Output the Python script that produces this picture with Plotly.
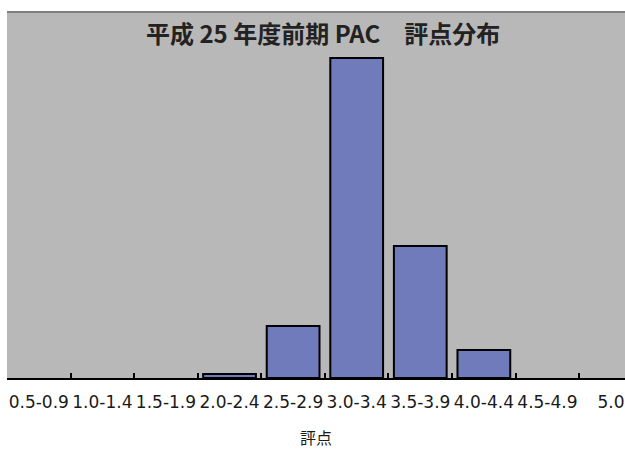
import plotly.graph_objects as go

categories = ["0.5-0.9", "1.0-1.4", "1.5-1.9", "2.0-2.4", "2.5-2.9",
              "3.0-3.4", "3.5-3.9", "4.0-4.4", "4.5-4.9", "5.0"]
counts = [0, 0, 0, 1, 13, 80, 33, 7, 0, 0]

title_text = "平成 25 年度前期 PAC　評点分布"
x_title = "評点"

line_widths = [2 if v > 0 else 0 for v in counts]

fig = go.Figure()
fig.add_trace(go.Bar(
    x=categories, y=counts, width=0.83,
    marker=dict(color="#6f7bbb", line=dict(color="#000000", width=line_widths)),
    showlegend=False,
))

fig.update_layout(
    width=625, height=452,
    margin=dict(l=7, r=0, t=12, b=74),
    paper_bgcolor="white",
    plot_bgcolor="#b8b8b8",
    font=dict(family="DejaVu Sans", color="#1a1a1a"),
    xaxis=dict(
        type="category",
        range=[-0.5, 9.22],
        tickson="boundaries",
        tickangle=0,
        ticklabelstandoff=8,
        ticks="inside", ticklen=5, tickwidth=2, tickcolor="#000",
        showline=True, linecolor="#000", linewidth=2,
        showgrid=False, zeroline=False,
        tickfont=dict(size=17, family="DejaVu Sans", color="#1a1a1a"),
    ),
    yaxis=dict(range=[0, 91.5], visible=False, showgrid=False, zeroline=False),
    shapes=[dict(type="line", xref="paper", yref="paper", x0=0, x1=1, y0=1, y1=1,
                 line=dict(color="#7f7f7f", width=2))],
    annotations=[
        dict(text="<b>" + title_text + "</b>", xref="paper", yref="paper",
             x=0.511, y=0.945, xanchor="center", yanchor="middle", showarrow=False,
             font=dict(size=24, family="Noto Sans CJK JP", color="#222")),
        dict(text=x_title, xref="paper", yref="paper",
             x=0.5, y=-0.161, xanchor="center", yanchor="middle", showarrow=False,
             font=dict(size=16, family="Noto Sans CJK JP", color="#1a1a1a")),
    ],
)

fig.write_html(
    "out.html",
    config={"displayModeBar": False},
    post_script="document.body.style.margin='0';document.documentElement.style.overflow='hidden';",
)
